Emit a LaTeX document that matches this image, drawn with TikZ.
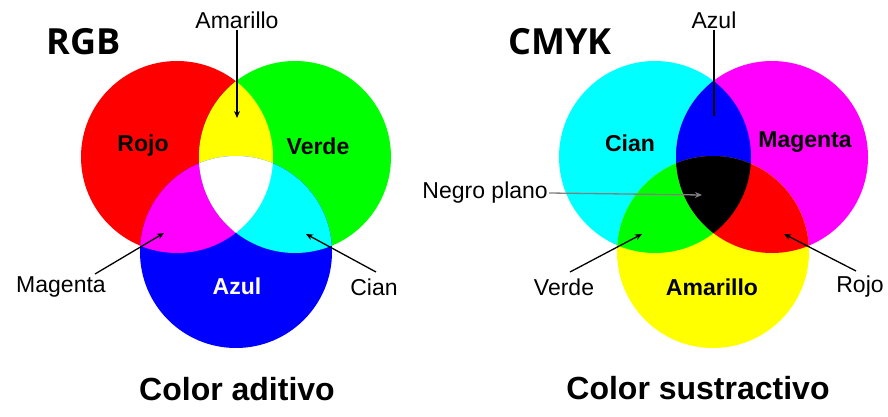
\documentclass[tikz,border=0pt]{standalone}
\usepackage{fontspec}
\setmainfont{Liberation Sans}
\newfontfamily\titlefont{Open Sans}
\usetikzlibrary{arrows.meta}
\definecolor{pcyan}{RGB}{0,255,255}
\definecolor{pmag}{RGB}{255,0,255}
\definecolor{pyel}{RGB}{255,255,0}
\definecolor{pred}{RGB}{255,0,0}
\definecolor{pgreen}{RGB}{0,255,0}
\definecolor{pblue}{RGB}{0,0,255}
\begin{document}
\begin{tikzpicture}[x=1pt,y=-1pt,
  lbl/.style={font=\fontsize{23}{25}\selectfont, inner sep=1pt},
  blbl/.style={font=\fontsize{23}{25}\selectfont\bfseries, inner sep=1pt},
  ttl/.style={font=\titlefont\fontsize{36}{38}\selectfont\bfseries},
  captxt/.style={font=\fontsize{32}{34}\selectfont\bfseries},
  pointer/.style={line width=1.3pt, -{Stealth[length=7pt,width=6pt]}}]
\useasboundingbox (0,0) rectangle (888,417);
\def\R{96}
% RGB
\def\ra{(177,157) circle (\R)}
\def\ga{(295,157) circle (\R)}
\def\ba{(236,252) circle (\R)}
\fill[pred] \ra; \fill[pgreen] \ga; \fill[pblue] \ba;
\begin{scope}\clip \ra; \fill[pyel] \ga; \fill[pmag] \ba;\end{scope}
\begin{scope}\clip \ga; \fill[pcyan] \ba;\end{scope}
\begin{scope}\clip \ra; \clip \ga; \fill[white] \ba;\end{scope}
% CMYK
\def\ca{(655,157) circle (\R)}
\def\ma{(772,157) circle (\R)}
\def\ya{(713,252) circle (\R)}
\fill[pcyan] \ca; \fill[pmag] \ma; \fill[pyel] \ya;
\begin{scope}\clip \ca; \fill[pblue] \ma; \fill[pgreen] \ya;\end{scope}
\begin{scope}\clip \ma; \fill[pred] \ya;\end{scope}
\begin{scope}\clip \ca; \clip \ma; \fill[black] \ya;\end{scope}
% titles
\node[ttl] (rgb) at (84,42) {RGB};
\node[ttl] (cmyk) at (560,42) {CMYK};
% RGB labels
\node[lbl] (am1) at (237,20) {Amarillo};
\coordinate (am1t) at (237,118);
\draw[pointer] (am1) -- (am1t);
\node[blbl] (rojo1) at (143,146) {Rojo};
\node[blbl] (verde1) at (318,146) {Verde};
\node[blbl,white] (azul1) at (237,286) {Azul};
\node[lbl] (mag1) at (61,287) {Magenta};
\coordinate (mag1t) at (164,233);
\draw[pointer] (95,274) -- (mag1t);
\node[lbl] (cian1) at (374,287) {Cian};
\coordinate (cian1t) at (306,234);
\draw[pointer] (376,272) -- (cian1t);
\node[captxt] (ca1) at (237,389) {Color aditivo};
% CMYK labels
\node[lbl] (az2) at (714,20) {Azul};
\coordinate (az2t) at (714,116);
\draw[line width=1.3pt] (az2) -- (az2t);
\node[blbl] (cian2) at (630,143) {Cian};
\node[blbl] (mag2) at (805,142) {Magenta};
\node[blbl] (am2) at (712,287) {Amarillo};
\node[lbl,anchor=east] (negro) at (549,193) {Negro plano};
\coordinate (negrot) at (702,195);
\draw[pointer, gray] (negro.east) -- (negrot);
\node[lbl] (verde2) at (564,287) {Verde};
\coordinate (verde2t) at (642,234);
\draw[pointer] (570,272) -- (verde2t);
\node[lbl] (rojo2) at (860,287) {Rojo};
\coordinate (rojo2t) at (784,234);
\draw[pointer] (856,271) -- (rojo2t);
\node[captxt] (ca2) at (698,388) {Color sustractivo};
\end{tikzpicture}
\end{document}
